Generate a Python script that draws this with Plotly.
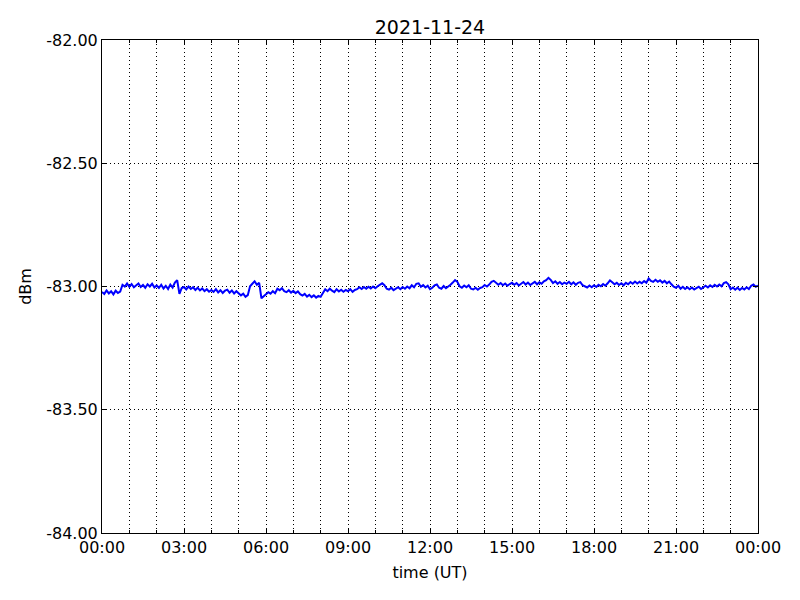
import plotly.graph_objects as go
import pandas as pd

title = "2021-11-24"
start = "2021-11-24 00:00"
end = "2021-11-25 00:00"

# signal level (dBm), 5-minute samples, one row per hour
h00 = [-83.022,-83.030,-83.016,-83.028,-83.019,-83.032,-83.017,-83.026,-83.021,-82.993,-83.000,-82.988]
h01 = [-83.001,-82.990,-83.003,-82.994,-82.988,-83.002,-82.994,-83.005,-82.991,-83.000,-82.989,-83.004]
h02 = [-82.996,-83.006,-82.993,-83.008,-82.997,-83.010,-82.992,-83.004,-82.984,-82.974,-83.030,-83.006]
h03 = [-83.002,-83.012,-83.000,-83.010,-83.003,-83.014,-83.005,-83.016,-83.008,-83.019,-83.011,-83.021]
h04 = [-83.014,-83.022,-83.011,-83.024,-83.015,-83.026,-83.017,-83.013,-83.025,-83.016,-83.028,-83.019]
h05 = [-83.029,-83.036,-83.029,-83.042,-83.035,-82.999,-82.989,-82.979,-82.993,-82.985,-83.048,-83.039]
h06 = [-83.031,-83.023,-83.029,-83.019,-83.027,-83.009,-83.015,-83.007,-83.019,-83.023,-83.015,-83.025]
h07 = [-83.018,-83.027,-83.020,-83.031,-83.037,-83.030,-83.041,-83.034,-83.043,-83.036,-83.045,-83.038]
h08 = [-83.042,-83.029,-83.011,-83.019,-83.009,-83.017,-83.023,-83.011,-83.020,-83.013,-83.021,-83.014]
h09 = [-83.019,-83.011,-83.022,-83.014,-83.011,-83.003,-83.010,-83.002,-83.009,-83.001,-83.008,-83.000]
h10 = [-83.007,-82.999,-82.991,-82.987,-82.995,-83.009,-83.013,-83.005,-83.015,-83.008,-83.003,-83.011]
h11 = [-83.002,-83.009,-83.000,-83.007,-82.995,-83.003,-82.989,-82.987,-83.001,-82.994,-83.004,-82.997]
h12 = [-83.011,-83.005,-82.995,-82.992,-83.005,-83.009,-82.998,-83.007,-83.001,-82.993,-82.984,-82.974]
h13 = [-82.981,-82.999,-83.005,-82.996,-83.003,-82.995,-83.009,-83.012,-83.005,-83.013,-83.006,-83.003]
h14 = [-82.994,-83.000,-82.992,-82.981,-82.977,-82.987,-82.993,-82.986,-82.995,-82.988,-82.997,-82.990]
h15 = [-82.985,-82.993,-82.986,-82.996,-82.988,-82.982,-82.992,-82.984,-82.994,-82.987,-82.981,-82.991]
h16 = [-82.983,-82.989,-82.979,-82.974,-82.965,-82.973,-82.986,-82.979,-82.989,-82.982,-82.991,-82.984]
h17 = [-82.989,-82.981,-82.991,-82.983,-82.993,-82.985,-82.982,-82.995,-83.000,-83.004,-82.996,-83.003]
h18 = [-82.995,-83.002,-82.993,-82.999,-82.990,-82.997,-82.987,-82.975,-82.983,-82.991,-82.985,-82.994]
h19 = [-82.987,-82.995,-82.985,-82.991,-82.982,-82.989,-82.980,-82.988,-82.981,-82.987,-82.978,-82.985]
h20 = [-82.967,-82.977,-82.981,-82.973,-82.981,-82.975,-82.984,-82.977,-82.987,-82.980,-82.991,-83.001]
h21 = [-83.005,-82.997,-83.009,-83.001,-83.010,-83.003,-83.011,-83.004,-83.012,-83.005,-83.001,-83.010]
h22 = [-83.005,-82.997,-83.004,-82.995,-83.002,-82.993,-83.000,-82.992,-82.999,-82.986,-82.982,-82.991]
h23 = [-83.011,-83.004,-83.013,-83.005,-83.014,-83.006,-83.012,-83.003,-83.010,-82.997,-82.992,-83.001]
h24 = [-82.996]

signal = (h00 + h01 + h02 + h03 + h04 + h05 + h06 + h07 + h08 + h09 + h10 + h11 +
          h12 + h13 + h14 + h15 + h16 + h17 + h18 + h19 + h20 + h21 + h22 + h23 + h24)
times = pd.date_range(start, periods=len(signal), freq="5min")

y_tickvals = [-84.0, -83.5, -83.0, -82.5, -82.0]
y_ticktext = ["-84.00", "-83.50", "-83.00", "-82.50", "-82.00"]

font = "DejaVu Sans, sans-serif"
grid_dash = "1px,3px"

fig = go.Figure()
fig.add_trace(go.Scatter(x=times, y=signal, mode="lines",
                         line=dict(color="#0000ff", width=2.0), showlegend=False))

fig.update_layout(
    width=800, height=600,
    paper_bgcolor="white", plot_bgcolor="white",
    margin=dict(l=94, r=50, t=32, b=75),
    font=dict(family=font, size=16, color="black"),
    title=dict(text=title, x=0.5, xanchor="center", xref="paper",
               y=1 - 19/600, yanchor="middle", yref="container",
               font=dict(size=19, family=font)),
)
fig.update_xaxes(
    type="date", range=[start, end],
    tickformat="%H:%M", dtick=3*3600*1000, tick0=start,
    ticks="inside", ticklen=5, tickcolor="black",
    showline=True, linecolor="black", linewidth=1, mirror="ticks",
    showgrid=True, gridcolor="black", griddash=grid_dash, gridwidth=1,
    minor=dict(dtick=3600*1000, tick0=start, showgrid=True, gridcolor="black",
               griddash=grid_dash, gridwidth=1, ticks="inside", ticklen=3, tickcolor="black"),
    title=dict(text="time (UT)", font=dict(size=16), standoff=10),
    tickfont=dict(size=16), zeroline=False,
)
fig.update_yaxes(
    range=[-84, -82], tickvals=y_tickvals, ticktext=y_ticktext,
    ticks="inside", ticklen=5, tickcolor="black",
    showline=True, linecolor="black", linewidth=1, mirror="ticks",
    showgrid=True, gridcolor="black", griddash=grid_dash, gridwidth=1,
    title=dict(text="dBm", font=dict(size=16), standoff=10),
    tickfont=dict(size=16), zeroline=False,
)

fig.write_html("out.html")
